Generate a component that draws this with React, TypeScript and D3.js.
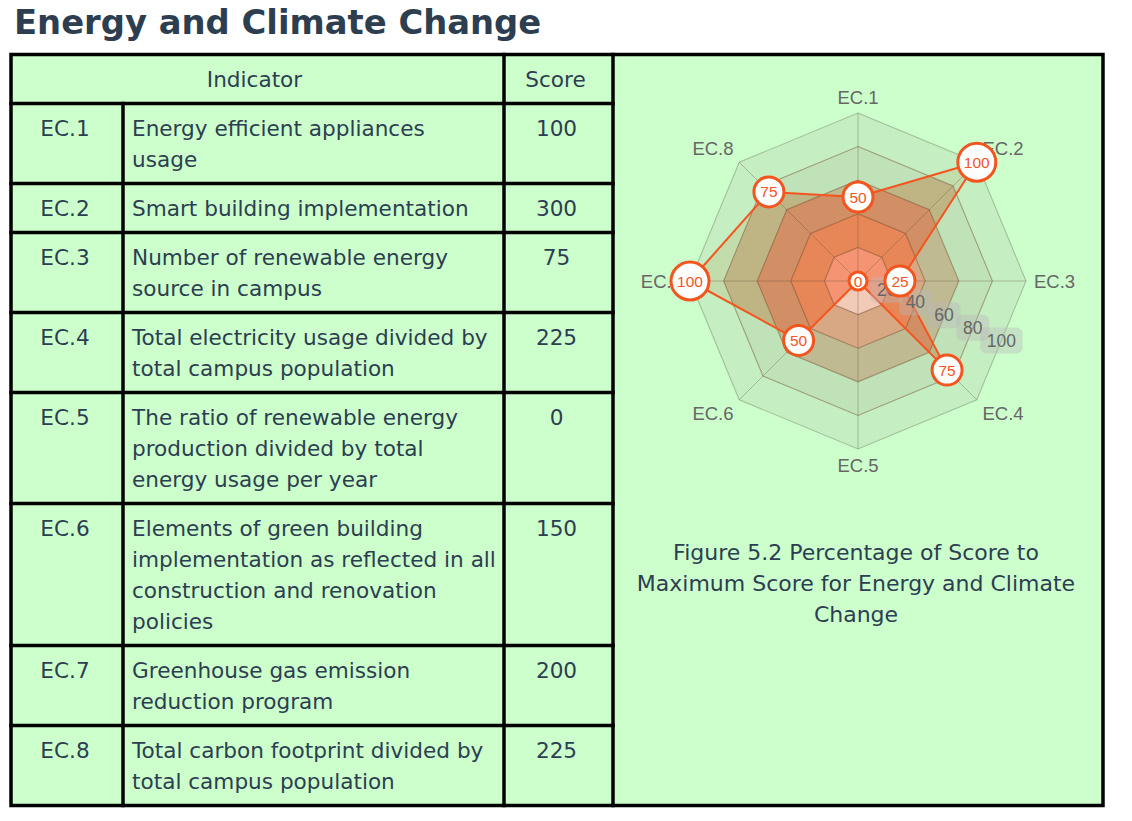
import React from 'react';
import * as d3 from 'd3';

// ---------- data ----------
const TITLE = 'Energy and Climate Change';
const HEADER_INDICATOR = 'Indicator';
const HEADER_SCORE = 'Score';
const CODES = ['EC.1', 'EC.2', 'EC.3', 'EC.4', 'EC.5', 'EC.6', 'EC.7', 'EC.8'];
const INDICATOR_LINES: string[][] = [
  ['Energy efficient appliances', 'usage'],
  ['Smart building implementation'],
  ['Number of renewable energy', 'source in campus'],
  ['Total electricity usage divided by', 'total campus population'],
  ['The ratio of renewable energy', 'production divided by total', 'energy usage per year'],
  ['Elements of green building', 'implementation as reflected in all', 'construction and renovation', 'policies'],
  ['Greenhouse gas emission', 'reduction program'],
  ['Total carbon footprint divided by', 'total campus population'],
];
const SCORES = [100, 300, 75, 225, 0, 150, 200, 225];
const PERCENT = [50, 100, 25, 75, 0, 50, 100, 75];
const RADAR_TICKS = [20, 40, 60, 80, 100];
const CAPTION_LINES = ['Figure 5.2 Percentage of Score to', 'Maximum Score for Energy and Climate', 'Change'];

// ---------- style ----------
const TEXT_DARK = '#2c3e50';
const CELL_BG = '#ccffcc';
const TABLE_FONT = "'DejaVu Sans', sans-serif";
const CHART_FONT = "'Liberation Sans', Arial, sans-serif";
const ORANGE = 'rgb(244,84,30)';
const BAND_OUT = ['rgb(243,202,184)', 'rgb(216,168,132)', 'rgb(192,186,146)', 'rgb(192,226,184)', 'rgb(198,238,195)'];
const BAND_IN = ['rgb(245,148,114)', 'rgb(231,134,86)', 'rgb(210,142,100)', 'rgb(190,180,132)', 'rgb(195,220,172)'];
const CIRCLE_R = [0, 9, 15, 19];

const W = 1132;
const H = 821;

export default function App() {
  // table geometry
  const tableTop = 54.5;
  const lineH = 31;
  const padV = 9;
  const cols = [11, 123, 504, 613, 1103];
  const rowHeights = [1, ...INDICATOR_LINES.map((l) => l.length)].map((n) => padV * 2 + lineH * n);
  const rowTops: number[] = [];
  let acc = tableTop;
  rowHeights.forEach((h) => {
    rowTops.push(acc);
    acc += h;
  });
  const tableBottom = acc;

  // radar geometry
  const cx = 858;
  const cy = 281;
  const R = 168;
  const N = CODES.length;
  const rScale = d3.scaleLinear().domain([0, 100]).range([0, R]);
  const angle = (i: number) => (i * 2 * Math.PI) / N;
  const radial = d3
    .lineRadial<number>()
    .angle((_, i) => angle(i))
    .radius((d) => rScale(d))
    .curve(d3.curveLinearClosed);
  const octagon = (v: number) => radial(new Array(N).fill(v)) as string;
  const dataPath = radial(PERCENT) as string;
  const bandsDesc = [...RADAR_TICKS].reverse();

  const tickDir = (23.9 * Math.PI) / 180;
  const tickFactor = 0.934;

  return (
    <svg
      width={W}
      height={H}
      style={{ position: 'absolute', left: 0, top: 0, display: 'block', background: '#fff' }}
    >
      {/* title */}
      <text x={14} y={34} fontFamily={TABLE_FONT} fontWeight="bold" fontSize={33.8} fill={TEXT_DARK}>
        {TITLE}
      </text>

      {/* table background */}
      <rect x={cols[0]} y={tableTop} width={cols[4] - cols[0]} height={tableBottom - tableTop} fill={CELL_BG} />

      {/* table text */}
      <g fontFamily={TABLE_FONT} fontSize={21.6} fill={TEXT_DARK}>
        <text x={(cols[0] + cols[2]) / 2 - 3} y={rowTops[0] + padV + 23.5} textAnchor="middle">
          {HEADER_INDICATOR}
        </text>
        <text x={(cols[2] + cols[3]) / 2 - 3} y={rowTops[0] + padV + 23.5} textAnchor="middle">
          {HEADER_SCORE}
        </text>
        {CODES.map((code, i) => {
          const top = rowTops[i + 1];
          return (
            <g key={code}>
              <text x={(cols[0] + cols[1]) / 2 - 2} y={top + padV + 23.5} textAnchor="middle">
                {code}
              </text>
              {INDICATOR_LINES[i].map((line, j) => (
                <text key={j} x={cols[1] + 9} y={top + padV + 23.5 + j * lineH}>
                  {line}
                </text>
              ))}
              <text x={(cols[2] + cols[3]) / 2 - 2} y={top + padV + 23.5} textAnchor="middle">
                {SCORES[i]}
              </text>
            </g>
          );
        })}
      </g>

      {/* radar */}
      <defs>
        <clipPath id="dataClip">
          <path d={dataPath} transform={`translate(${cx},${cy})`} />
        </clipPath>
      </defs>
      <g transform={`translate(${cx},${cy})`}>
        {bandsDesc.map((v) => (
          <path key={`o${v}`} d={octagon(v)} fill={BAND_OUT[RADAR_TICKS.indexOf(v)]} />
        ))}
      </g>
      <g clipPath="url(#dataClip)">
        <g transform={`translate(${cx},${cy})`}>
          {bandsDesc.map((v) => (
            <path key={`i${v}`} d={octagon(v)} fill={BAND_IN[RADAR_TICKS.indexOf(v)]} />
          ))}
        </g>
      </g>
      <g transform={`translate(${cx},${cy})`}>
        {RADAR_TICKS.map((v) => (
          <path
            key={`g${v}`}
            d={octagon(v)}
            fill="none"
            stroke={v === 100 ? 'rgba(100,115,85,0.4)' : 'rgba(110,70,40,0.45)'}
            strokeWidth={1.1}
          />
        ))}
        {CODES.map((c, i) => {
          const [x, y] = d3.pointRadial(angle(i), R);
          return <line key={`s${c}`} x1={0} y1={0} x2={x} y2={y} stroke="rgba(100,80,60,0.35)" strokeWidth={1} />;
        })}
        <path d={dataPath} fill="none" stroke={ORANGE} strokeWidth={2} strokeLinejoin="round" />

        {/* axis labels */}
        {CODES.map((c, i) => {
          const a = angle(i);
          const [x, y] = d3.pointRadial(a, R + 8);
          const s = Math.sin(a);
          const co = Math.cos(a);
          const anchor = s > 0.01 ? 'start' : s < -0.01 ? 'end' : 'middle';
          const dy = co > 0.01 ? -8 : co < -0.01 ? 8 : 0;
          return (
            <text
              key={`l${c}`}
              x={x}
              y={y + dy}
              textAnchor={anchor}
              dominantBaseline="central"
              fontFamily={CHART_FONT}
              fontSize={18.5}
              fill="#666"
            >
              {c}
            </text>
          );
        })}

        {/* tick labels */}
        {RADAR_TICKS.map((v) => {
          const d = rScale(v) * tickFactor;
          const x = d * Math.cos(tickDir);
          const y = d * Math.sin(tickDir) - 4;
          const tw = String(v).length * 0.556 * 17;
          const bw = tw + 14;
          return (
            <g key={`t${v}`}>
              <rect x={x - bw / 2} y={y - 13} width={bw} height={26} rx={6} fill="rgba(185,185,185,0.4)" />
              <text
                x={x}
                y={y}
                textAnchor="middle"
                dominantBaseline="central"
                fontFamily={CHART_FONT}
                fontSize={17.5}
                fill="#666"
              >
                {v}
              </text>
            </g>
          );
        })}

        {/* value markers */}
        {PERCENT.map((v, i) => {
          const [x, y] = d3.pointRadial(angle(i), rScale(v));
          const r = CIRCLE_R[String(v).length];
          return (
            <g key={`p${i}`}>
              <circle cx={x} cy={y} r={r} fill="#fff" stroke={ORANGE} strokeWidth={3} />
              <text
                x={x}
                y={y}
                textAnchor="middle"
                dominantBaseline="central"
                fontFamily={CHART_FONT}
                fontSize={15.5}
                fill={ORANGE}
              >
                {v}
              </text>
            </g>
          );
        })}
      </g>

      {/* caption */}
      <g fontFamily={TABLE_FONT} fontSize={22} fill={TEXT_DARK}>
        {CAPTION_LINES.map((line, j) => (
          <text key={j} x={856} y={560 + j * lineH} textAnchor="middle">
            {line}
          </text>
        ))}
      </g>

      {/* borders */}
      <g stroke="#000" strokeWidth={3.5} strokeLinecap="square" fill="none">
        <rect x={cols[0]} y={tableTop} width={cols[4] - cols[0]} height={tableBottom - tableTop} />
        <line x1={cols[1]} y1={rowTops[1]} x2={cols[1]} y2={tableBottom} />
        <line x1={cols[2]} y1={tableTop} x2={cols[2]} y2={tableBottom} />
        <line x1={cols[3]} y1={tableTop} x2={cols[3]} y2={tableBottom} />
        {rowTops.slice(1).map((t, i) => (
          <line key={i} x1={cols[0]} y1={t} x2={cols[3]} y2={t} />
        ))}
      </g>
    </svg>
  );
}
